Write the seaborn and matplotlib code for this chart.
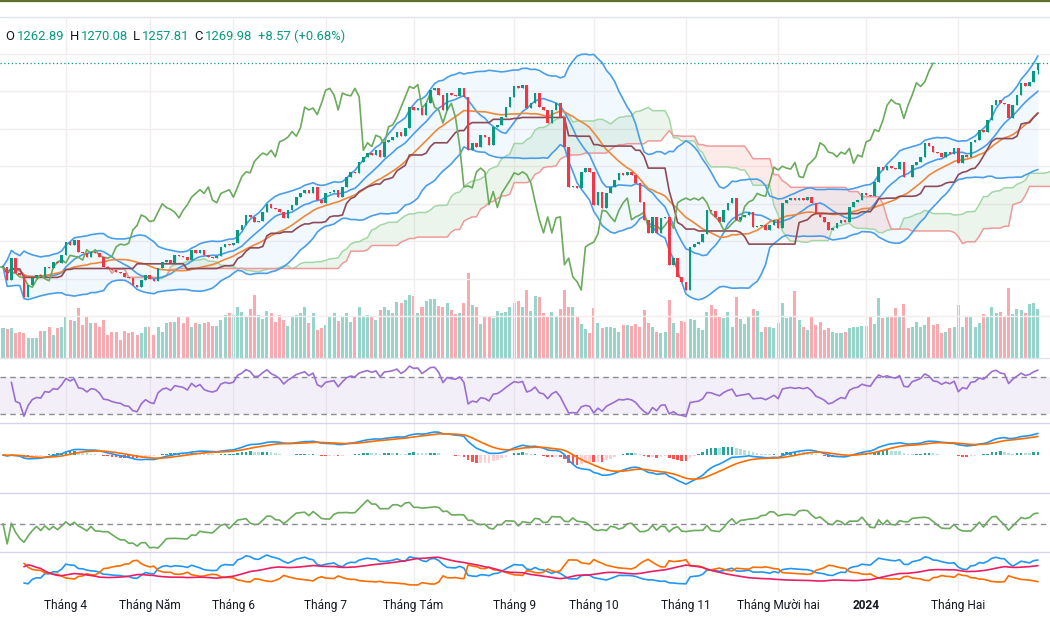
import numpy as np
import pandas as pd
import matplotlib
matplotlib.use("Agg")
import matplotlib.pyplot as plt
from matplotlib.lines import Line2D
import seaborn as sns

# daily closes (index points)
closes = [
    1053, 1039, 1062, 1046, 1044, 1021, 1033, 1041, 1044, 1043,
    1053, 1052, 1058, 1057, 1065, 1079, 1076, 1081, 1069, 1068,
    1063, 1069, 1068, 1063, 1053, 1052, 1049, 1047, 1046, 1042,
    1041, 1033, 1031, 1039, 1044, 1040, 1038, 1052, 1058, 1060,
    1057, 1065, 1064, 1063, 1060, 1071, 1067, 1071, 1065, 1063,
    1062, 1064, 1074, 1077, 1076, 1078, 1092, 1097, 1108, 1106,
    1101, 1102, 1111, 1120, 1116, 1114, 1111, 1105, 1113, 1119,
    1127, 1131, 1135, 1131, 1138, 1124, 1121, 1131, 1133, 1135,
    1127, 1138, 1149, 1154, 1153, 1165, 1170, 1174, 1172, 1177,
    1170, 1186, 1188, 1191, 1197, 1192, 1201, 1223, 1220, 1222,
    1215, 1227, 1241, 1243, 1236, 1220, 1238, 1236, 1235, 1243,
    1234, 1177, 1185, 1181, 1193, 1191, 1183, 1202, 1204, 1212,
    1223, 1234, 1245, 1243, 1247, 1222, 1227, 1238, 1223, 1220,
    1206, 1220, 1227, 1212, 1181, 1138, 1139, 1137, 1154, 1158,
    1154, 1119, 1133, 1116, 1131, 1138, 1145, 1153, 1151, 1154,
    1151, 1142, 1122, 1103, 1089, 1106, 1089, 1105, 1106, 1055,
    1062, 1042, 1037, 1028, 1074, 1077, 1079, 1088, 1113, 1112,
    1106, 1101, 1113, 1121, 1126, 1103, 1106, 1108, 1111, 1095,
    1096, 1097, 1092, 1097, 1103, 1094, 1121, 1124, 1126, 1124,
    1126, 1124, 1127, 1121, 1110, 1106, 1101, 1092, 1094, 1099,
    1103, 1101, 1117, 1122, 1124, 1131, 1129, 1128, 1143, 1159,
    1156, 1160, 1158, 1157, 1164, 1149, 1148, 1161, 1165, 1170,
    1185, 1182, 1175, 1174, 1170, 1175, 1173, 1179, 1163, 1172,
    1170, 1186, 1188, 1199, 1197, 1209, 1225, 1231, 1227, 1226,
    1211, 1225, 1236, 1249, 1245, 1250, 1261.41, 1269.98,
]

# traded volume, million shares
volumes = [
    600, 580, 600, 500, 520, 500, 400, 400, 400, 540,
    540, 620, 460, 600, 620, 820, 760, 740, 1000, 660,
    820, 700, 700, 620, 760, 460, 520, 520, 360, 540,
    500, 520, 460, 500, 620, 620, 460, 620, 520, 700,
    720, 720, 820, 700, 820, 620, 700, 680, 700,
    720, 640, 640, 760, 860, 900, 860, 1020, 920, 820,
    980, 1260, 860, 780, 940, 900, 720, 860, 760, 640,
    840, 860, 900, 1020, 700, 900, 560, 600, 660, 820,
    900, 740, 840, 900, 720, 820, 1020, 820, 860, 840,
    760, 960, 1020, 960, 900, 1120, 1100, 1160, 1260,
    1240, 900, 1020, 1140, 1180, 1180, 1040, 1020, 1100, 960,
    880, 900, 1100, 1700, 1060, 1020, 680, 820, 840, 800,
    940, 900, 920, 1020, 1100, 1140, 1020, 1360, 940, 1240,
    1220, 900, 820, 920, 820, 980, 1360, 1020, 1020, 820,
    680, 580, 500, 1000, 700, 600, 620, 620, 600, 520, 660,
    660, 640, 680, 620, 960, 700, 620, 520, 500, 520,
    1160, 700, 500, 740, 720, 780, 760, 600, 560, 920,
    1060, 980, 820, 800, 920, 620, 1220, 780, 680, 840,
    980, 940, 520, 620, 620, 600, 700, 1100, 800, 820,
    1340, 760, 620, 560, 820, 660, 720, 560, 600, 520, 500,
    500, 520, 600, 620, 620, 640, 640, 820, 680, 1200,
    800, 840, 840, 1000, 820, 1080, 600, 620, 720, 620,
    660, 820, 660, 680, 500, 520, 600, 620, 1060, 620,
    820, 820, 620, 700, 880, 820, 1020, 900, 920, 820,
    1400, 880, 980, 960, 900, 1080, 1100, 980,
]

last_ohlc = [1262.89, 1270.08, 1257.81, 1269.98]
last_change = [8.57, 0.68]

tick_pos = [15, 35, 55, 77, 98, 122, 141, 163, 185, 206, 228]
tick_labels = ["Tháng 4", "Tháng Năm", "Tháng 6", "Tháng 7", "Tháng Tám", "Tháng 9",
               "Tháng 10", "Tháng 11", "Tháng Mười hai", "2024", "Tháng Hai"]

UP, DOWN = "#089981", "#f23645"

sns.set_theme(style="white")
plt.rcParams["font.family"] = ["Roboto", "DejaVu Sans"]

df = pd.DataFrame({"close": closes, "volume": volumes})
n = len(df)
df["open"] = df["close"].shift(1).fillna(df["close"])
df.loc[n - 1, "open"] = last_ohlc[0]
df["high"] = df[["open", "close"]].max(axis=1)
df["low"] = df[["open", "close"]].min(axis=1)
df.loc[n - 1, "high"] = last_ohlc[1]
df.loc[n - 1, "low"] = last_ohlc[2]
x = np.arange(n)
c = df["close"]

# indicators
sma10 = c.rolling(10, min_periods=1).mean()
sma20 = c.rolling(20, min_periods=1).mean()
std20 = c.rolling(20, min_periods=2).std(ddof=0).fillna(0)
bb_up, bb_lo = sma20 + 2 * std20, sma20 - 2 * std20

def mid(p):
    return (df["high"].rolling(p, min_periods=1).max() + df["low"].rolling(p, min_periods=1).min()) / 2

tenkan, kijun, span_b = mid(9), mid(26), mid(52)
span_a = (tenkan + kijun) / 2
shift = 25
xs = x + shift

d = c.diff()
def rma(s, p):
    return s.ewm(alpha=1 / p, adjust=True).mean()
gain, loss = rma(d.clip(lower=0), 14), rma(-d.clip(upper=0), 14)
rsi = (100 - 100 / (1 + gain / loss))[2:]

macd = c.ewm(span=12, adjust=False).mean() - c.ewm(span=26, adjust=False).mean()
signal = macd.ewm(span=9, adjust=False).mean()
hist = macd - signal

mfm = np.sign(df["close"] - df["open"])
cmf = (mfm * df["volume"]).rolling(20, min_periods=1).sum() / df["volume"].rolling(20, min_periods=1).sum()

up_move, down_move = df["high"].diff(), -df["low"].diff()
plus_dm = np.where((up_move > down_move) & (up_move > 0), up_move, 0.0)
minus_dm = np.where((down_move > up_move) & (down_move > 0), down_move, 0.0)
prev_c = c.shift(1)
tr = pd.concat([df["high"] - df["low"], (df["high"] - prev_c).abs(), (df["low"] - prev_c).abs()], axis=1).max(axis=1)
atr = rma(tr.iloc[1:], 14)
pdi = 100 * rma(pd.Series(plus_dm, index=df.index).iloc[1:], 14) / atr
mdi = 100 * rma(pd.Series(minus_dm, index=df.index).iloc[1:], 14) / atr
dx = 100 * (pdi - mdi).abs() / (pdi + mdi)
adx = rma(dx, 14)
pdi, mdi, adx = pdi[4:], mdi[4:], adx[4:]

# layout in pixel rows
W, H = 1050, 630
fig = plt.figure(figsize=(10.5, 6.3), dpi=100)

def add(top, bottom):
    return fig.add_axes([0, 1 - bottom / H, 1, (bottom - top) / H])

ax = add(18, 358)
ax_rsi = add(358, 423)
ax_macd = add(423, 493)
ax_osc = add(493, 552)
ax_dmi = add(552, 592)
panels = [ax, ax_rsi, ax_macd, ax_osc, ax_dmi]
xlim = (-3 / 4.19, (W - 3) / 4.19)
for a in panels:
    a.set_xlim(*xlim)
    for s in a.spines.values():
        s.set_visible(False)
    a.set_yticks([])
    a.set_xticks([])
    for t in tick_pos:
        a.axvline(t, color="#f3eeee", lw=1, zorder=0)
for a in panels[1:]:
    a.spines["top"].set_visible(True)
    a.spines["top"].set_color("#d9d2ee")
    a.spines["top"].set_linewidth(1)
ax_rsi.spines["top"].set_color("#dde3ee")

# main price pane
ax.set_ylim(955.6, 1318.0)
for lvl in range(1000, 1300, 40):
    ax.axhline(lvl, color="#f3eeee", lw=1, zorder=0)

vax = ax.twinx()
vax.set_xlim(*xlim)
vax.set_ylim(0, 340 * 20)
vax.set_yticks([])
for s in vax.spines.values():
    s.set_visible(False)
up_bar = (df["close"] >= df["open"]).values
vax.bar(x, df["volume"], width=0.72, color=np.where(up_bar, UP, DOWN), alpha=0.42, linewidth=0)
vax.set_zorder(ax.get_zorder() - 1)
ax.patch.set_visible(False)

# ichimoku cloud
ax.fill_between(xs, span_a, span_b, where=span_a >= span_b, interpolate=True, color="#43a047", alpha=0.1, lw=0)
ax.fill_between(xs, span_a, span_b, where=span_a < span_b, interpolate=True, color="#f44336", alpha=0.1, lw=0)
sns.lineplot(x=xs, y=span_a.values, ax=ax, color="#a5d6a7", lw=1.1, estimator=None)
sns.lineplot(x=xs, y=span_b.values, ax=ax, color="#ef9a9a", lw=1.1, estimator=None)

# bollinger bands
ax.fill_between(x, bb_up, bb_lo, color="#2196f3", alpha=0.06, lw=0)
for line in (bb_up, bb_lo, sma10):
    sns.lineplot(x=x, y=line.values, ax=ax, color="#4a9ee8", lw=1.2, estimator=None)
sns.lineplot(x=x, y=sma20.values, ax=ax, color="#f0883a", lw=1.2, estimator=None)
sns.lineplot(x=x, y=kijun.values, ax=ax, color="#8e4a57", lw=1.2, estimator=None)
sns.lineplot(x=x - shift, y=c.values, ax=ax, color="#6aab5c", lw=1.2, estimator=None)

# candles
body_lo = df[["open", "close"]].min(axis=1)
body_h = (df["close"] - df["open"]).abs().clip(lower=0.9)
cols = np.where(up_bar, UP, DOWN)
ax.vlines(x, df["low"], df["high"], colors=cols, lw=0.9, zorder=3)
ax.bar(x, body_h, bottom=body_lo, width=0.62, color=cols, linewidth=0, zorder=4)
ax.axhline(last_ohlc[3], color=UP, ls=(0, (1, 2)), lw=0.9, zorder=5)

# RSI
ax_rsi.set_ylim(20, 90)
ax_rsi.axhspan(30, 70, color="#7e57c2", alpha=0.09, lw=0)
for lvl in (70, 30):
    ax_rsi.axhline(lvl, color="#8a8d96", ls=(0, (4, 3)), lw=1)
sns.lineplot(x=rsi.index, y=rsi.values, ax=ax_rsi, color="#9a6fd0", lw=1.2, estimator=None)

# MACD
hcol = np.where(hist >= 0,
                np.where(hist.diff() >= 0, "#26a69a", "#b2dfdb"),
                np.where(hist.diff() >= 0, "#ffcdd2", "#ff5252"))
ax_macd.bar(x, hist, width=0.62, color=hcol, linewidth=0)
sns.lineplot(x=x, y=macd.values, ax=ax_macd, color="#2196f3", lw=1.2, estimator=None)
sns.lineplot(x=x, y=signal.values, ax=ax_macd, color="#ff6d00", lw=1.2, estimator=None)
m = pd.concat([macd, signal])[30:]
k = max(m.max() / 23, -m.min() / 32)
ax_macd.set_ylim(-38 * k, 32 * k)

# money flow
sns.lineplot(x=x, y=cmf.values, ax=ax_osc, color="#6aab5c", lw=1.2, estimator=None)
ax_osc.axhline(0, color="#8a8d96", ls=(0, (4, 3)), lw=1)
cm = cmf[10:]
per_px = (cm.max() - cm.min()) / 48
ax_osc.set_ylim(cm.min() - 4 * per_px, cm.max() + 7 * per_px)

# DMI
sns.lineplot(x=pdi.index, y=pdi.values, ax=ax_dmi, color="#2196f3", lw=1.2, estimator=None)
sns.lineplot(x=mdi.index, y=mdi.values, ax=ax_dmi, color="#ff6d00", lw=1.2, estimator=None)
sns.lineplot(x=adx.index, y=adx.values, ax=ax_dmi, color="#e91e63", lw=1.2, estimator=None)
dm = pd.concat([pdi[20:], mdi[20:], adx[20:]])
lo, hi = dm.min(), dm.max()
r = hi - lo
ax_dmi.set_ylim(lo - r * 7 / 30, hi + r * 3 / 30)

for a in panels + [vax]:
    a.set_xlabel("")
    a.set_ylabel("")

ax_dmi.set_xticks(tick_pos)
ax_dmi.set_xticklabels(tick_labels, fontsize=8.6, color="#131722")
ax_dmi.tick_params(axis="x", length=0, pad=5)
ax_dmi.get_xticklabels()[9].set_fontweight("bold")

# header
fig.add_artist(Line2D([0, 1], [1 - 1 / H, 1 - 1 / H], color="#5f6f2d", lw=1.6))
fig.add_artist(Line2D([0, 1], [1 - 17 / H, 1 - 17 / H], color="#e0e3eb", lw=1))
parts = [(5, "O", "#131722"), (17, "1262.89", UP), (70, "H", "#131722"), (81, "1270.08", UP),
         (133, "L", "#131722"), (142, "1257.81", UP), (194, "C", "#131722"), (205, "1269.98", UP),
         (258, f"+{last_change[0]:.2f} (+{last_change[1]:.2f}%)", UP)]
for px, txt, col in parts:
    fig.text(px / W, 1 - 36 / H, txt, color=col, fontsize=9.4, va="center", ha="left")

fig.savefig("out.png", dpi=100)
